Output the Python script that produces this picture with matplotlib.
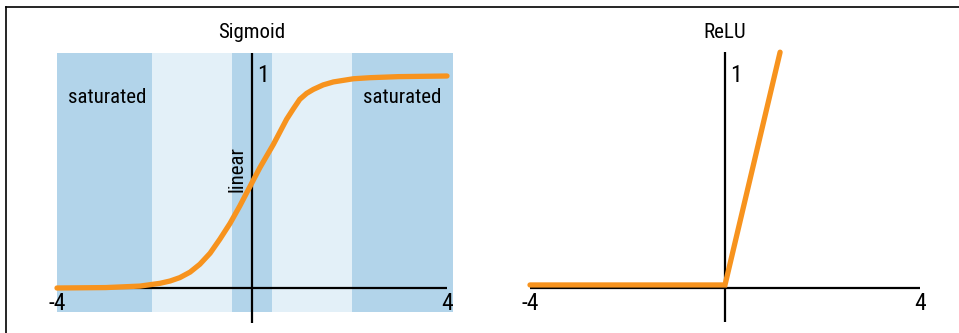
import matplotlib
matplotlib.use("Agg")
import matplotlib.pyplot as plt
from matplotlib.lines import Line2D
from matplotlib import font_manager as fm

# ---- data ----
sig_x = [-4.0, -3.0, -2.30, -1.89, -1.68, -1.48, -1.27, -1.07, -0.86, -0.66, -0.45, -0.25,
         0.0, 0.16, 0.44, 0.71, 0.85, 0.98, 1.12, 1.26, 1.46, 1.67, 2.08, 2.42, 3.0, 4.0]
sig_y = [0.0, 0.002, 0.009, 0.022, 0.033, 0.049, 0.075, 0.112, 0.164, 0.23, 0.305, 0.387,
         0.497, 0.567, 0.678, 0.796, 0.846, 0.89, 0.918, 0.937, 0.958, 0.972, 0.987, 0.992, 0.997, 1.0]

relu_x = [-4, 0.0, 1.13]
relu_y = [0.012, 0.012, 1.11]

# shaded regions of the sigmoid: (start, end, kind)
band_starts = [-4.0, -2.05, -0.41, 0.41, 2.05]
band_ends = [-2.05, -0.41, 0.41, 2.05, 4.12]
band_kinds = ['dark', 'light', 'dark', 'light', 'dark']

titles = ['Sigmoid', 'ReLU']
x_tick_labels = ['-4', '4']
y_tick_label = '1'

ORANGE = '#F7931E'
DARK = '#B2D4EA'
LIGHT = '#E3F0F8'

# ---- choose a condensed font if one is installed ----
def pick_font():
    prefs = ['RobotoCondensed-Regular', 'Roboto_Condensed-Regular', 'OpenSans_Condensed-Regular',
             'OpenSansCondensed-Regular', 'OpenSans-CondensedRegular', 'LiberationSansNarrow-Regular',
             'DejaVuSansCondensed.ttf']
    files = [f.fname for f in fm.fontManager.ttflist]
    for p in prefs:
        for f in files:
            if p.lower() in f.lower().replace(' ', ''):
                return fm.FontProperties(fname=f), True
    for f in files:
        low = f.lower()
        if ('condensed' in low or 'narrow' in low) and 'bold' not in low and 'italic' not in low \
                and 'light' not in low and 'semi' not in low and 'medium' not in low:
            return fm.FontProperties(fname=f), True
    return fm.FontProperties(family='DejaVu Sans'), False

FP, CONDENSED = pick_font()
FS = 15 if CONDENSED else 12.5
FS_NUM = 17 if CONDENSED else 14

W, H = 959, 333
fig = plt.figure(figsize=(W / 100, H / 100), dpi=100)


def make_axes(px0, px1, py0, py1, x_origin_px, y_origin_px, xscale=48.75, yscale=212.0):
    ax = fig.add_axes([px0 / W, 1 - py1 / H, (px1 - px0) / W, (py1 - py0) / H])
    ax.set_xlim((px0 - x_origin_px) / xscale, (px1 - x_origin_px) / xscale)
    ax.set_ylim((y_origin_px - py1) / yscale, (y_origin_px - py0) / yscale)
    ax.axis('off')
    return ax


def txt(ax, x, y, s, size=None, **kw):
    t = ax.text(x, y, s, fontproperties=FP, **kw)
    t.set_fontsize(size if size else FS)
    return t


# ---------------- Sigmoid panel ----------------
ax1 = make_axes(30, 475, 15, 333, 252, 288)
for s, e, k in zip(band_starts, band_ends, band_kinds):
    ax1.fill_between([s, e], -0.113, 1.11, color=DARK if k == 'dark' else LIGHT,
                     linewidth=0, zorder=1)
ax1.plot([-4, 4], [0, 0], color='black', lw=1.6, zorder=2, solid_capstyle='butt')
ax1.plot([0, 0], [-0.165, 1.11], color='black', lw=1.6, zorder=2, solid_capstyle='butt')
ax1.plot(sig_x, sig_y, color=ORANGE, lw=3.8, zorder=3,
         solid_capstyle='round', solid_joinstyle='round')
txt(ax1, 0, 1.205, titles[0], ha='center', va='center')
txt(ax1, -4, -0.075, x_tick_labels[0], size=FS_NUM, ha='center', va='center')
txt(ax1, 4, -0.075, x_tick_labels[1], size=FS_NUM, ha='center', va='center')
txt(ax1, 0.1, 1.0, y_tick_label, size=FS_NUM, ha='left', va='center')
txt(ax1, -2.97, 0.9, 'saturated', ha='center', va='center', zorder=4)
txt(ax1, 3.08, 0.9, 'saturated', ha='center', va='center', zorder=4)
txt(ax1, -0.3, 0.56, 'linear', ha='center', va='center', rotation=90, zorder=4)

# ---------------- ReLU panel ----------------
ax2 = make_axes(490, 959, 15, 333, 725, 287.5)
ax2.plot([-4, 4], [0, 0], color='black', lw=1.6, zorder=2, solid_capstyle='butt')
ax2.plot([0, 0], [-0.165, 1.11], color='black', lw=1.6, zorder=2, solid_capstyle='butt')
ax2.plot(relu_x, relu_y, color=ORANGE, lw=3.8, zorder=3,
         solid_capstyle='round', solid_joinstyle='miter')
txt(ax2, 0, 1.205, titles[1], ha='center', va='center')
txt(ax2, -4, -0.075, x_tick_labels[0], size=FS_NUM, ha='center', va='center')
txt(ax2, 4, -0.075, x_tick_labels[1], size=FS_NUM, ha='center', va='center')
txt(ax2, 0.1, 1.0, y_tick_label, size=FS_NUM, ha='left', va='center')

# figure frame (top and left edges)
fig.add_artist(Line2D([6 / W, 1.0], [1 - 7 / H, 1 - 7 / H], color='black', lw=1.2,
                      transform=fig.transFigure))
fig.add_artist(Line2D([6 / W, 6 / W], [0, 1 - 7 / H], color='black', lw=1.2,
                      transform=fig.transFigure))

fig.savefig('out.png', dpi=100)
